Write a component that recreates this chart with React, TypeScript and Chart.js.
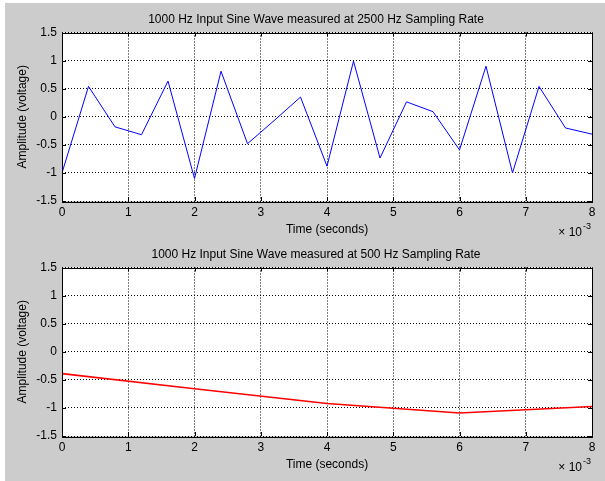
import React, { useEffect, useRef } from "react";
import { Chart, registerables } from "chart.js";

Chart.register(...registerables);

// ---- data (time in units of 10^-3 s) ----
const timeFastMs = [0, 0.4, 0.8, 1.2, 1.6, 2.0, 2.4, 2.8, 3.2, 3.6, 4.0, 4.4, 4.8, 5.2, 5.6, 6.0, 6.4, 6.8, 7.2, 7.6, 8.0];
const amplitudeFast = [-1.0, 0.54, -0.18, -0.32, 0.635, -1.1, 0.81, -0.48, -0.07, 0.35, -0.88, 0.99, -0.735, 0.265, 0.09, -0.59, 0.9, -1.0, 0.54, -0.2, -0.31];

const timeSlowMs = [0, 2, 4, 6, 8];
const amplitudeSlow = [-0.39, -0.66, -0.92, -1.09, -0.975];

const titleFast = "1000 Hz Input Sine Wave measured at 2500 Hz Sampling Rate";
const titleSlow = "1000 Hz Input Sine Wave measured at 500 Hz Sampling Rate";
const xAxisTitle = "Time (seconds)";
const yAxisTitle = "Amplitude (voltage)";
const xExponentBase = "× 10";
const xExponent = "-3";

const xMin = 0;
const xMax = 8;
const xStep = 1;
const yMin = -1.5;
const yMax = 1.5;
const yStep = 0.5;

const FONT = "'Liberation Sans', Arial, sans-serif";

const axesPlugin = {
  id: "matlabAxes",
  beforeDraw(chart: any) {
    const { ctx, chartArea: a } = chart;
    ctx.save();
    ctx.fillStyle = "#ffffff";
    ctx.fillRect(a.left, a.top, a.right - a.left, a.bottom - a.top);
    ctx.restore();
  },
  afterDraw(chart: any, _args: any, opts: any) {
    const { ctx, chartArea: a, scales } = chart;
    ctx.save();
    ctx.strokeStyle = "#000000";
    ctx.lineWidth = 1;
    // tick marks inside
    const tl = 4;
    ctx.beginPath();
    scales.x.ticks.forEach((t: any) => {
      const px = Math.round(scales.x.getPixelForValue(t.value)) + 0.5;
      ctx.moveTo(px, a.bottom);
      ctx.lineTo(px, a.bottom - tl);
      ctx.moveTo(px, a.top);
      ctx.lineTo(px, a.top + tl);
    });
    scales.y.ticks.forEach((t: any) => {
      const py = Math.round(scales.y.getPixelForValue(t.value)) + 0.5;
      ctx.moveTo(a.left, py);
      ctx.lineTo(a.left + tl, py);
      ctx.moveTo(a.right, py);
      ctx.lineTo(a.right - tl, py);
    });
    ctx.stroke();
    // box
    ctx.strokeRect(Math.round(a.left) + 0.5, Math.round(a.top) + 0.5, Math.round(a.right - a.left), Math.round(a.bottom - a.top));
    // title
    ctx.fillStyle = "#000000";
    ctx.textBaseline = "middle";
    ctx.textAlign = "center";
    ctx.font = `12px ${FONT}`;
    ctx.fillText(opts.title || "", (a.left + a.right) / 2 - 11, a.top - 13);
    // exponent label
    ctx.textAlign = "right";
    ctx.font = `12px ${FONT}`;
    ctx.fillText(xExponentBase, a.right - 10, a.bottom + 32);
    ctx.textAlign = "left";
    ctx.font = `9px ${FONT}`;
    ctx.fillText(xExponent, a.right - 9, a.bottom + 26);
    ctx.restore();
  },
};

function Panel({ top, title, xs, ys, color, lineWidth }: any) {
  const ref = useRef<HTMLCanvasElement | null>(null);
  useEffect(() => {
    if (!ref.current) return;
    const chart = new Chart(ref.current, {
      type: "line",
      data: {
        datasets: [
          {
            data: xs.map((x: number, i: number) => ({ x, y: ys[i] })),
            borderColor: color,
            borderWidth: lineWidth,
            pointRadius: 0,
            tension: 0,
            fill: false,
          },
        ],
      },
      options: {
        animation: false,
        responsive: false,
        devicePixelRatio: 1,
        layout: { padding: { left: 0, right: 13, top: 32.5, bottom: 0 } },
        plugins: {
          legend: { display: false },
          tooltip: { enabled: false },
          title: { display: false },
          matlabAxes: { title },
        },
        scales: {
          x: {
            type: "linear",
            min: xMin,
            max: xMax,
            ticks: {
              stepSize: xStep,
              color: "#000000",
              padding: 4,
              font: { family: FONT, size: 12 },
              maxRotation: 0,
              callback: (v: any) => String(v),
            },
            grid: { color: "#000000", lineWidth: 1, drawTicks: false },
            border: { display: false, dash: [1, 2] },
            title: {
              display: true,
              text: xAxisTitle,
              color: "#000000",
              font: { family: FONT, size: 12 },
              padding: { top: 0, bottom: 3 },
            },
            afterFit: (s: any) => {
              s.height = 39;
            },
          },
          y: {
            type: "linear",
            min: yMin,
            max: yMax,
            ticks: {
              stepSize: yStep,
              color: "#000000",
              padding: 5,
              font: { family: FONT, size: 12 },
              callback: (v: any) => String(v),
            },
            grid: { color: "#000000", lineWidth: 1, drawTicks: false },
            border: { display: false, dash: [1, 2] },
            title: {
              display: true,
              text: yAxisTitle,
              color: "#000000",
              font: { family: FONT, size: 12 },
              padding: { top: 15, bottom: 0 },
            },
            afterFit: (s: any) => {
              s.width = 62;
            },
          },
        },
      },
      plugins: [axesPlugin],
    } as any);
    return () => chart.destroy();
  }, []);
  return (
    <canvas
      ref={ref}
      width={605}
      height={240}
      style={{ position: "absolute", left: 0, top, width: 605, height: 240 }}
    />
  );
}

export default function App() {
  return (
    <div style={{ position: "fixed", left: 0, top: 0, width: 605, height: 481, background: "#ffffff", overflow: "hidden" }}>
      <div style={{ position: "absolute", left: 5, top: 3, right: 0, bottom: 0, background: "#cccccc" }} />
      <Panel top={0} title={titleFast} xs={timeFastMs} ys={amplitudeFast} color="#0000ff" lineWidth={1} />
      <Panel top={235} title={titleSlow} xs={timeSlowMs} ys={amplitudeSlow} color="#ff0000" lineWidth={1.6} />
    </div>
  );
}
